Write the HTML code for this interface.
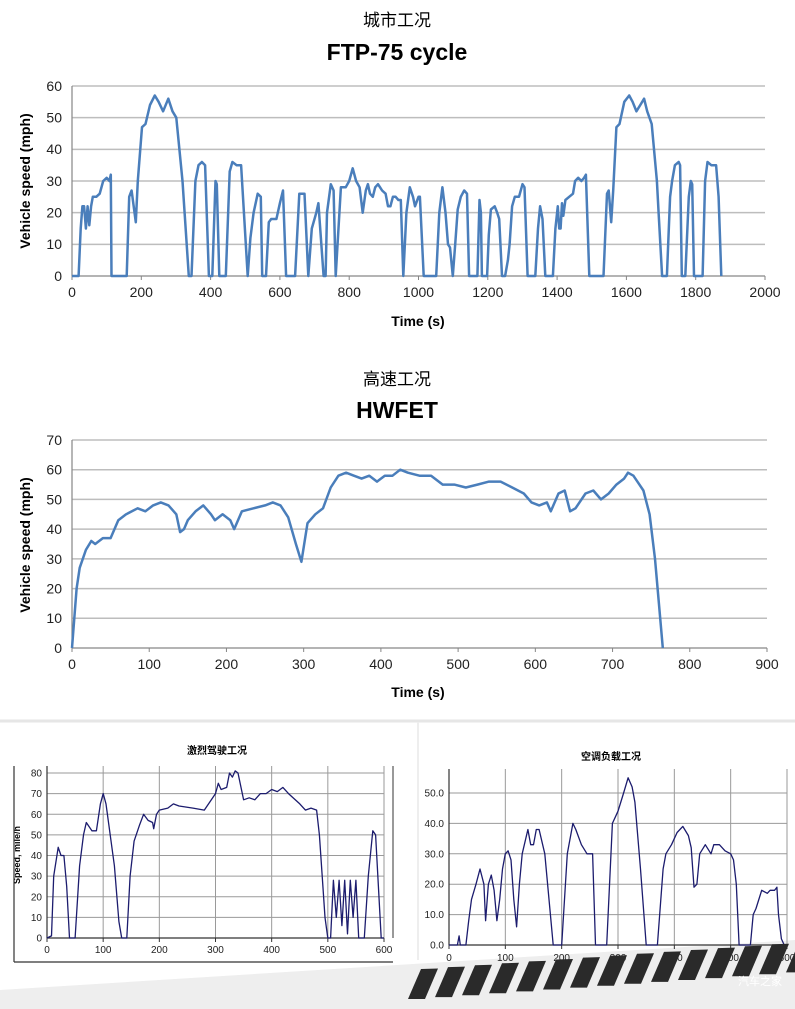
<!DOCTYPE html>
<html><head><meta charset="utf-8">
<style>
html,body{margin:0;padding:0;background:#fff;}
svg{display:block;}
text{font-family:"Liberation Sans","Noto Sans CJK SC",sans-serif;}
</style></head>
<body>
<svg id="s" width="795" height="1009" viewBox="0 0 795 1009" xmlns="http://www.w3.org/2000/svg">
<rect width="795" height="1009" fill="#fff"/>
<!-- bottom background -->
<polygon points="0,1009 0,990 795,940 795,1009" fill="#eeeeee"/>
<line x1="0" y1="721" x2="795" y2="721" stroke="#e6e6e6" stroke-width="3"/>
<line x1="418" y1="722" x2="418" y2="960" stroke="#eeeeee" stroke-width="2"/>

<text x="397" y="26" font-size="17" text-anchor="middle">城市工况</text>
<text x="397" y="60" font-size="23" font-weight="bold" text-anchor="middle" style="font-family:'Liberation Sans Narrow','Liberation Sans',sans-serif">FTP-75 cycle</text>
<text x="397" y="385" font-size="17" text-anchor="middle">高速工况</text>
<text x="397" y="418" font-size="23" font-weight="bold" text-anchor="middle" style="font-family:'Liberation Sans Narrow','Liberation Sans',sans-serif">HWFET</text>

<g id="g"></g>
<text x="417" y="754" font-size="10" font-weight="bold" text-anchor="middle" transform="translate(-200,0)">激烈驾驶工况</text>
<text x="611" y="760" font-size="10" font-weight="bold" text-anchor="middle">空调负载工况</text>
<text transform="translate(20,855) rotate(-90)" font-size="9" font-weight="bold" text-anchor="middle">Speed, mile/h</text>
<line x1="14" y1="766" x2="14" y2="962" stroke="#333" stroke-width="1.2"/>
<line x1="14" y1="962" x2="393" y2="962" stroke="#333" stroke-width="1.2"/>
<g id="stripes"></g>
<text x="760" y="985" font-size="11" fill="#fff" text-anchor="middle">汽车之家</text>
</svg>
<script>
var NS="http://www.w3.org/2000/svg",g=document.getElementById('g');
function el(t,a,txt){var e=document.createElementNS(NS,t);for(var k in a)e.setAttribute(k,a[k]);if(txt!=null)e.textContent=txt;g.appendChild(e);return e;}
function chart(o){
 var X=function(t){return o.x0+(t-o.tmin)/(o.tmax-o.tmin)*(o.x1-o.x0)},Y=function(v){return o.y0-(v/o.vmax)*(o.y0-o.y1)};
 o.yt.forEach(function(v){var y=Y(v);
  if(v>0||o.zeroGrid)el('line',{x1:o.x0,y1:y,x2:o.gx1||o.x1,y2:y,stroke:o.gc,'stroke-width':o.gw});
  el('text',{x:o.x0-o.lpad,y:y+o.fs*0.35,'font-size':o.fs,'text-anchor':'end',fill:o.tc},o.yf?o.yf(v):v);});
 o.xt.forEach(function(t){var x=X(t);
  if(o.vgrid&&t>0)el('line',{x1:x,y1:o.gtop,x2:x,y2:o.y0,stroke:o.gc,'stroke-width':o.gw});
  el('line',{x1:x,y1:o.y0,x2:x,y2:o.y0+4,stroke:o.ac,'stroke-width':1});
  el('text',{x:x,y:o.y0+o.xpad,'font-size':o.fs,'text-anchor':'middle',fill:o.tc},t);});
 el('line',{x1:o.x0,y1:o.y0,x2:o.gx1||o.x1,y2:o.y0,stroke:o.ac,'stroke-width':1.2});
 el('line',{x1:o.x0,y1:o.gtop,x2:o.x0,y2:o.y0,stroke:o.ac,'stroke-width':1.2});
 if(o.rb)el('line',{x1:o.rb,y1:o.gtop,x2:o.rb,y2:o.y0,stroke:o.ac,'stroke-width':1});
 var p=[];for(var i=0;i<o.d.length;i+=2)p.push(X(o.d[i]).toFixed(1)+','+Y(o.d[i+1]).toFixed(1));
 el('polyline',{points:p.join(' '),fill:'none',stroke:o.lc,'stroke-width':o.lw,'stroke-linejoin':'round'});
}
var ftp=[0,0,19,0,25,15,30,22,35,22,40,15,45,22,50,16,55,22,60,25,70,25,80,26,90,30,100,31,108,30,112,32,114,0,158,0,165,25,172,27,184,17,190,30,202,47,212,48,225,54,239,57,250,55,263,52,278,56,290,52,301,50,319,30,325,20,337,0,345,0,356,30,365,35,375,36,384,35,395,0,405,0,414,30,418,29,425,0,444,0,455,33,463,36,475,35,488,35,507,0,515,12,524,20,536,26,545,25,549,0,560,0,568,17,575,18,590,18,600,23,609,27,618,0,644,0,656,26,671,26,682,0,692,15,705,20,711,23,726,0,732,0,736,20,747,29,755,27,761,0,776,28,790,28,800,30,810,34,820,30,830,28,839,20,848,27,854,29,860,26,868,25,875,28,883,29,895,27,905,26,912,22,919,22,926,25,934,25,942,24,949,24,956,0,965,20,975,28,984,25,990,22,1000,25,1004,25,1015,0,1051,0,1060,20,1069,28,1078,20,1085,10,1091,9,1099,0,1106,10,1113,21,1122,25,1132,27,1140,26,1146,0,1170,0,1176,24,1180,20,1183,0,1198,0,1203,13,1209,21,1220,22,1227,20,1233,18,1241,0,1250,0,1258,5,1263,10,1270,22,1278,25,1290,25,1300,29,1306,28,1315,0,1337,0,1345,15,1351,22,1358,18,1366,0,1388,0,1395,15,1402,22,1406,15,1410,15,1414,23,1418,19,1424,24,1435,25,1446,26,1452,30,1461,31,1470,30,1478,31,1483,32,1493,0,1534,0,1544,26,1549,27,1556,17,1562,27,1571,47,1580,48,1594,55,1608,57,1618,55,1629,52,1640,54,1651,56,1660,52,1673,48,1688,30,1693,20,1703,0,1717,0,1726,25,1732,30,1740,35,1751,36,1755,35,1760,0,1770,0,1780,25,1786,30,1790,29,1795,0,1820,0,1827,30,1834,36,1845,35,1852,35,1859,35,1866,25,1874,0];
chart({x0:72,x1:765,tmin:0,tmax:2000,y0:276,y1:86,vmax:60,yt:[0,10,20,30,40,50,60],xt:[0,200,400,600,800,1000,1200,1400,1600,1800,2000],gc:'#bdbdbd',gw:1.5,ac:'#868686',tc:'#222',fs:14,lpad:10,xpad:21,gtop:86,lc:'#4a7ebb',lw:2.5,d:ftp});
var hw=[0,0,3,10,6,20,10,27,18,33,25,36,30,35,40,37,50,37,60,43,70,45,85,47,95,46,105,48,115,49,125,48,135,45,140,39,145,40,150,43,160,46,170,48,180,45,185,43,195,45,205,43,210,40,220,46,235,47,250,48,260,49,270,48,280,44,290,35,297,29,305,42,315,45,325,47,335,54,345,58,355,59,365,58,375,57,385,58,395,56,405,58,415,58,425,60,435,59,450,58,465,58,480,55,495,55,510,54,525,55,540,56,555,56,570,54,585,52,595,49,605,48,615,49,620,46,630,52,638,53,645,46,652,47,665,52,675,53,685,50,695,52,705,55,715,57,720,59,727,58,740,53,748,45,755,30,760,15,765,0];
chart({x0:72,x1:767,tmin:0,tmax:900,y0:648,y1:440,vmax:70,yt:[0,10,20,30,40,50,60,70],xt:[0,100,200,300,400,500,600,700,800,900],gc:'#bdbdbd',gw:1.5,ac:'#868686',tc:'#222',fs:14,lpad:10,xpad:21,gtop:440,lc:'#4a7ebb',lw:2.5,d:hw});
var us=[0,0,8,1,12,30,20,44,25,40,30,40,35,25,40,0,50,0,58,35,65,50,70,56,80,52,88,52,95,65,100,70,105,65,110,55,120,35,128,8,133,0,142,0,148,30,155,47,165,55,172,60,180,57,188,56,190,53,195,60,200,62,215,63,225,65,235,64,260,63,280,62,300,70,305,75,310,72,320,73,325,80,330,78,335,81,340,80,350,67,360,68,370,67,380,70,390,70,400,72,410,71,420,73,430,70,450,65,460,62,470,63,480,62,485,50,490,30,495,10,500,0,505,0,510,28,515,10,520,28,525,6,530,28,535,2,540,28,545,10,550,28,555,0,565,0,572,30,580,52,585,50,590,25,595,0,600,0];
chart({x0:47,x1:384,gx1:384,tmin:0,tmax:600,y0:938,y1:773,vmax:80,yt:[0,10,20,30,40,50,60,70,80],xt:[0,100,200,300,400,500,600],gc:'#9a9a9a',gw:1,ac:'#333',tc:'#222',fs:10,lpad:5,xpad:15,gtop:766,vgrid:true,rb:393,lc:'#1c1c6e',lw:1.3,d:us});
var sc=[0,0,15,0,18,3,20,0,30,0,35,8,40,15,48,20,55,25,62,20,65,8,70,20,75,23,80,18,85,8,90,15,95,25,100,30,105,31,110,28,115,15,120,6,125,20,130,30,140,38,145,33,150,33,155,38,160,38,170,30,180,10,185,0,200,0,210,30,220,40,225,38,235,33,245,30,255,30,260,0,280,0,290,40,300,44,310,50,318,55,325,52,330,47,340,25,350,0,370,0,380,25,385,30,395,33,405,37,415,39,425,36,430,32,435,19,440,20,445,30,455,33,465,30,470,33,480,33,490,31,500,30,505,28,510,20,515,0,535,0,540,10,545,12,555,18,565,17,570,18,578,18,582,19,585,10,590,2,595,0];
chart({x0:449,x1:787,gx1:787,tmin:0,tmax:600,y0:945,y1:793,vmax:50,yt:[0,10,20,30,40,50],yf:function(v){return v.toFixed(1)},xt:[0,100,200,300,400,500,600],gc:'#9a9a9a',gw:1,ac:'#333',tc:'#222',fs:10,lpad:5,xpad:16,gtop:769,vgrid:true,lc:'#1c1c6e',lw:1.3,d:sc});
// y-axis titles
[[30,181],[30,545]].forEach(function(p){var t=el('text',{'font-size':14,'font-weight':'bold','text-anchor':'middle',transform:'translate('+p[0]+','+p[1]+') rotate(-90)'},'Vehicle speed (mph)');});
el('text',{x:418,y:326,'font-size':14,'font-weight':'bold','text-anchor':'middle'},'Time (s)');
el('text',{x:418,y:697,'font-size':14,'font-weight':'bold','text-anchor':'middle'},'Time (s)');
// stripes
var st=document.getElementById('stripes');
for(var i=0;i<15;i++){var x=408+i*27,yb=999-i*1.9,yt=yb-30;
 var p=document.createElementNS(NS,'polygon');
 p.setAttribute('points',(x)+','+yb+' '+(x+17)+','+yb+' '+(x+30)+','+(yt-0.5)+' '+(x+13)+','+yt);
 p.setAttribute('fill','#2a2a2a');st.appendChild(p);}
</script>
</body></html>
